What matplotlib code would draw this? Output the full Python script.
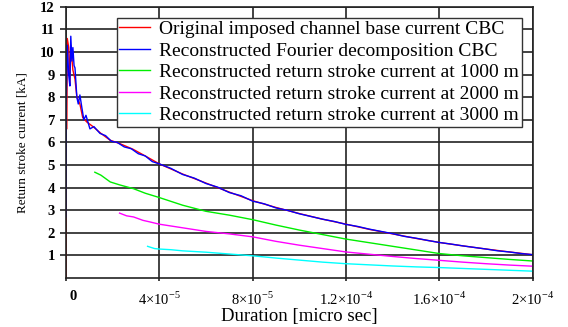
import matplotlib
matplotlib.use("Agg")
import matplotlib.pyplot as plt
from matplotlib.transforms import ScaledTranslation

plt.rcParams['font.family'] = ['Liberation Serif', 'DejaVu Serif']
plt.rcParams['mathtext.fontset'] = 'custom'
plt.rcParams['mathtext.rm'] = 'Liberation Serif'

# time in seconds, current in kA
t_cbc = [0, 0, 4e-7, 6e-7, 1.2e-6, 1.7e-6, 2.1e-6, 3.0e-6, 3.9e-6, 4.7e-6, 6.0e-6,
         7.2e-6, 9.0e-6, 1.16e-5, 1.5e-5, 1.89e-5, 2.3e-5, 2.87e-5, 3.4e-5, 4.0e-5,
         5.0e-5, 6.0e-5, 7.0e-5, 8.0e-5, 9.0e-5, 1.0e-4, 1.1e-4, 1.2e-4, 1.3e-4,
         1.4e-4, 1.5e-4, 1.6e-4, 1.7e-4, 1.8e-4, 1.9e-4, 2.0e-4]
i_cbc = [0, 6.6, 6.6, 10.6, 10.2, 8.6, 10.3, 9.2, 8.8, 8.0, 7.7,
         7.1, 6.9, 6.7, 6.4, 6.1, 5.95, 5.7, 5.4, 5.05,
         4.6, 4.2, 3.8, 3.42, 3.12, 2.85, 2.6, 2.38, 2.15,
         1.95, 1.75, 1.57, 1.42, 1.28, 1.15, 1.03]

t_four = [0, 2e-7, 6e-7, 1.2e-6, 1.7e-6, 2.1e-6, 2.6e-6, 3.0e-6, 3.5e-6, 3.9e-6,
          4.7e-6, 5.3e-6, 6.0e-6, 6.9e-6, 7.7e-6, 8.6e-6, 1.03e-5, 1.2e-5, 1.46e-5,
          1.7e-5, 1.95e-5, 2.2e-5, 2.5e-5, 2.8e-5, 3.1e-5, 3.4e-5, 3.7e-5, 4.0e-5,
          4.5e-5, 5.0e-5, 5.5e-5, 6.0e-5, 6.5e-5, 7.0e-5, 7.5e-5, 8.0e-5, 8.5e-5,
          9.0e-5, 9.5e-5, 1.0e-4, 1.05e-4, 1.1e-4, 1.15e-4, 1.2e-4, 1.25e-4, 1.3e-4,
          1.35e-4, 1.4e-4, 1.45e-4, 1.5e-4, 1.55e-4, 1.6e-4, 1.65e-4, 1.7e-4,
          1.75e-4, 1.8e-4, 1.85e-4, 1.9e-4, 1.95e-4, 2.0e-4]
i_four = [2.7, 8.0, 10.3, 9.0, 8.5, 10.7, 9.6, 10.2, 9.4, 9.3,
          8.0, 7.7, 8.1, 7.5, 7.0, 7.2, 6.6, 6.7, 6.4,
          6.3, 6.05, 6.0, 5.8, 5.72, 5.5, 5.4, 5.15, 5.05,
          4.85, 4.58, 4.42, 4.18, 4.02, 3.78, 3.64, 3.40, 3.28,
          3.10, 2.99, 2.84, 2.72, 2.60, 2.50, 2.37, 2.28, 2.16,
          2.06, 1.96, 1.84, 1.76, 1.66, 1.57, 1.50, 1.42,
          1.35, 1.28, 1.20, 1.15, 1.08, 1.03]

t_1000 = [1.24e-5, 1.5e-5, 1.9e-5, 2.3e-5, 2.9e-5, 3.4e-5, 4.0e-5, 5.0e-5, 6.0e-5,
          7.0e-5, 8.0e-5, 9.0e-5, 1.0e-4, 1.1e-4, 1.2e-4, 1.3e-4, 1.4e-4, 1.5e-4,
          1.6e-4, 1.7e-4, 1.8e-4, 1.9e-4, 2.0e-4]
i_1000 = [4.68, 4.55, 4.25, 4.12, 3.95, 3.75, 3.56, 3.22, 2.95,
          2.78, 2.58, 2.34, 2.12, 1.92, 1.72, 1.56, 1.40, 1.24,
          1.08, 0.98, 0.90, 0.82, 0.75]

t_2000 = [2.3e-5, 2.6e-5, 2.9e-5, 3.3e-5, 3.6e-5, 4.0e-5, 5.0e-5, 6.0e-5, 7.0e-5,
          8.0e-5, 9.0e-5, 1.0e-4, 1.1e-4, 1.2e-4, 1.3e-4, 1.4e-4, 1.5e-4, 1.6e-4,
          1.7e-4, 1.8e-4, 1.9e-4, 2.0e-4]
i_2000 = [2.87, 2.75, 2.70, 2.55, 2.48, 2.38, 2.22, 2.06, 1.95,
          1.82, 1.62, 1.45, 1.30, 1.15, 1.05, 0.95, 0.86, 0.78,
          0.70, 0.63, 0.57, 0.52]

t_3000 = [3.5e-5, 3.8e-5, 4.0e-5, 4.5e-5, 5.0e-5, 6.0e-5, 7.0e-5, 8.0e-5, 9.0e-5,
          1.0e-4, 1.1e-4, 1.2e-4, 1.3e-4, 1.4e-4, 1.5e-4, 1.6e-4, 1.7e-4, 1.8e-4,
          1.9e-4, 2.0e-4]
i_3000 = [1.40, 1.30, 1.28, 1.25, 1.20, 1.14, 1.06, 0.98, 0.88,
          0.79, 0.70, 0.63, 0.58, 0.53, 0.49, 0.46, 0.42, 0.38,
          0.34, 0.30]

labels = ['Original imposed channel base current CBC',
          'Reconstructed Fourier decomposition CBC',
          'Reconstructed return stroke current at 1000 m',
          'Reconstructed return stroke current at 2000 m',
          'Reconstructed return stroke current at 3000 m']
xticks = [0, 4e-5, 8e-5, 1.2e-4, 1.6e-4, 2e-4]
xticklabels = ['0', r'4×10$^{-5}$', r'8×10$^{-5}$', r'1.2×10$^{-4}$',
               r'1.6×10$^{-4}$', r'2×10$^{-4}$']
yticks = list(range(1, 13))

fig = plt.figure(figsize=(5.68, 3.27), dpi=100)
ax = fig.add_axes([0.116, 0.150, 0.822, 0.829])

ax.plot(t_cbc, i_cbc, color='#ff0000', lw=1, label=labels[0])
ax.plot(t_four, i_four, color='#0000ff', lw=1, label=labels[1])
ax.plot(t_1000, i_1000, color='#00ee00', lw=1, label=labels[2])
ax.plot(t_2000, i_2000, color='#ff00ff', lw=1, label=labels[3])
ax.plot(t_3000, i_3000, color='#00ffff', lw=1, label=labels[4])

ax.set_xlim(0, 2e-4)
ax.set_ylim(0, 12)
ax.set_xticks(xticks)
ax.set_xticklabels(xticklabels, fontsize=10.5)
ax.set_yticks(yticks)
ax.set_yticklabels([str(v) for v in yticks], fontsize=10.5, fontweight='bold')
ax.grid(True, color='#222222', lw=1.2)
ax.set_axisbelow(True)
ax.tick_params(length=4, width=1.2, color='#222222', pad=4)
ax.tick_params(axis='x', length=2, pad=7)
for s in ax.spines.values():
    s.set_color('#222222')
    s.set_linewidth(1.2)

# the "0" label sits a little right of the axis in the original
lab0 = ax.get_xticklabels()[0]
lab0.set_fontweight('bold')
lab0.set_transform(lab0.get_transform() + ScaledTranslation(7 / 100, 0, fig.dpi_scale_trans))

ax.set_xlabel('Duration [micro sec]', fontsize=13.5, va='top')
ax.xaxis.set_label_coords(0.5, -0.112)
ax.set_ylabel('Return stroke current [kA]', fontsize=9.5, labelpad=8)

leg = ax.legend(loc='upper right', fontsize=14, fancybox=False, framealpha=1,
                edgecolor='#333333', handlelength=1.55, labelspacing=0.2,
                borderpad=0.15, borderaxespad=0.55, handletextpad=0.5)
leg.get_frame().set_linewidth(1.0)

fig.savefig('out.png', dpi=100)
